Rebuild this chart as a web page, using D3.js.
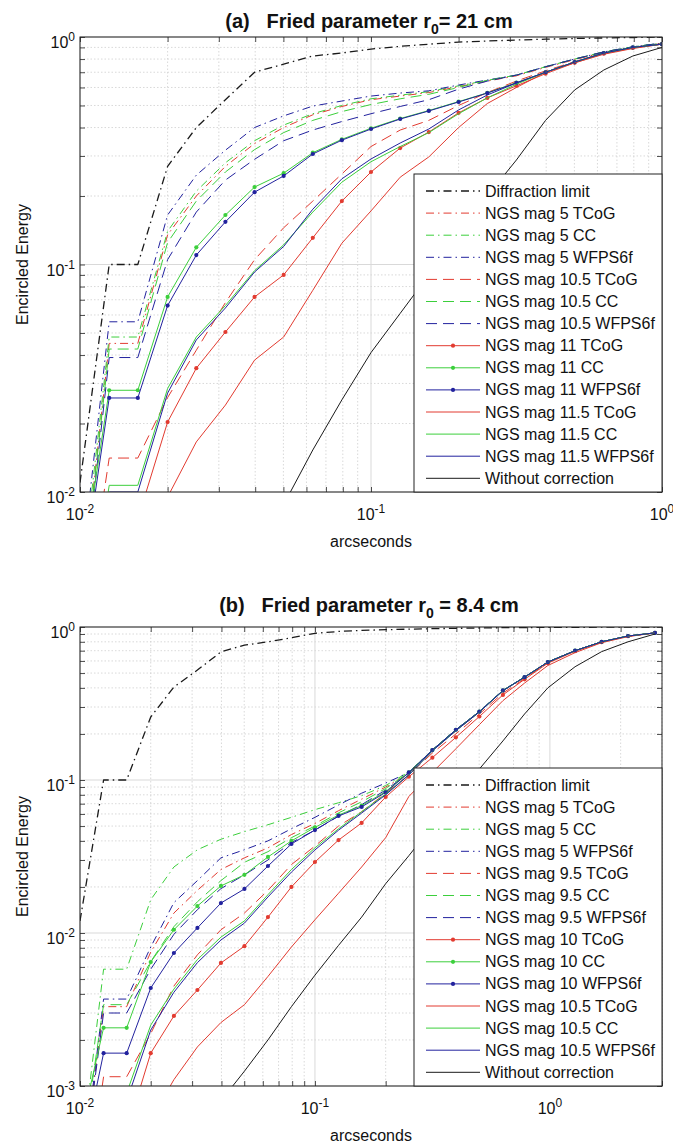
<!DOCTYPE html>
<html>
<head>
<meta charset="utf-8">
<script src="https://cdn.jsdelivr.net/npm/d3@7"></script>
<style>
  body { margin: 0; background: #fff; }
  text { font-family: Arial, "Liberation Sans", sans-serif; fill: #111; }
  .ttl { white-space: pre; }
</style>
</head>
<body>
<svg id="fig" width="673" height="1146"></svg>
<script>
// ---------------- panel (a): r0 = 21 cm ----------------
const xA = [0.01, 0.0126, 0.0158, 0.02, 0.0251, 0.0316, 0.0398, 0.0501, 0.0631, 0.0794, 0.1,
            0.126, 0.158, 0.2, 0.251, 0.316, 0.398, 0.501, 0.631, 0.794, 1.0];
const diffA      = [0.011, 0.1, 0.1, 0.27, 0.40, 0.53, 0.70, 0.76, 0.825, 0.85, 0.885, 0.91, 0.93, 0.95, 0.96, 0.97, 0.978, 0.985, 0.99, 0.995, 1.0];
const m5TCoG_A   = [0.003, 0.045, 0.045, 0.135, 0.20, 0.27, 0.34, 0.40, 0.455, 0.495, 0.53, 0.55, 0.57, 0.605, 0.64, 0.675, 0.735, 0.795, 0.855, 0.90, 0.935];
const m5CC_A     = [0.0035, 0.048, 0.048, 0.14, 0.21, 0.28, 0.35, 0.41, 0.46, 0.50, 0.535, 0.555, 0.575, 0.61, 0.645, 0.68, 0.74, 0.80, 0.86, 0.905, 0.94];
const m5WF_A     = [0.004, 0.056, 0.056, 0.165, 0.247, 0.318, 0.40, 0.45, 0.497, 0.523, 0.55, 0.567, 0.58, 0.615, 0.647, 0.68, 0.74, 0.80, 0.86, 0.905, 0.94];
const m105TCoG_A = [0.002, 0.0141, 0.0141, 0.026, 0.042, 0.068, 0.105, 0.145, 0.19, 0.25, 0.33, 0.39, 0.43, 0.50, 0.57, 0.64, 0.71, 0.78, 0.85, 0.90, 0.935];
const m105CC_A   = [0.003, 0.0425, 0.0425, 0.125, 0.19, 0.255, 0.32, 0.38, 0.43, 0.47, 0.505, 0.535, 0.56, 0.60, 0.645, 0.68, 0.74, 0.80, 0.86, 0.905, 0.94];
const m105WF_A   = [0.0028, 0.039, 0.039, 0.105, 0.17, 0.235, 0.29, 0.35, 0.39, 0.425, 0.46, 0.495, 0.53, 0.59, 0.64, 0.68, 0.74, 0.80, 0.86, 0.905, 0.94];
const m11TCoG_A  = [0.001, 0.0076, 0.0076, 0.0203, 0.035, 0.0505, 0.072, 0.09, 0.131, 0.19, 0.255, 0.325, 0.382, 0.464, 0.54, 0.61, 0.69, 0.77, 0.845, 0.895, 0.93];
const m11CC_A    = [0.004, 0.028, 0.028, 0.072, 0.119, 0.165, 0.219, 0.252, 0.31, 0.355, 0.397, 0.438, 0.475, 0.52, 0.568, 0.63, 0.70, 0.776, 0.85, 0.90, 0.93];
const m11WF_A    = [0.0035, 0.0259, 0.0259, 0.066, 0.11, 0.154, 0.208, 0.245, 0.306, 0.352, 0.394, 0.436, 0.473, 0.518, 0.567, 0.628, 0.70, 0.776, 0.85, 0.90, 0.93];
const m115TCoG_A = [0.0005, 0.003, 0.003, 0.0095, 0.0166, 0.0241, 0.038, 0.048, 0.077, 0.124, 0.172, 0.242, 0.297, 0.40, 0.51, 0.60, 0.70, 0.77, 0.84, 0.89, 0.93];
const m115CC_A   = [0.0015, 0.0107, 0.0107, 0.0285, 0.048, 0.066, 0.094, 0.122, 0.17, 0.23, 0.283, 0.33, 0.38, 0.46, 0.54, 0.62, 0.70, 0.776, 0.85, 0.90, 0.93];
const m115WF_A   = [0.0014, 0.0100, 0.0100, 0.0272, 0.0466, 0.0644, 0.0927, 0.12, 0.175, 0.238, 0.291, 0.342, 0.394, 0.478, 0.556, 0.628, 0.70, 0.776, 0.85, 0.90, 0.93];
const noCorrA    = [0.0003, 0.0005, 0.0008, 0.0013, 0.002, 0.0032, 0.0053, 0.0088, 0.0153, 0.0254, 0.041, 0.061, 0.09, 0.135, 0.20, 0.288, 0.43, 0.585, 0.716, 0.825, 0.90];

// ---------------- panel (b): r0 = 8.4 cm ----------------
const xB = [0.01, 0.0126, 0.0158, 0.02, 0.0251, 0.0316, 0.0398, 0.0501, 0.0631, 0.0794, 0.1,
            0.126, 0.158, 0.2, 0.251, 0.316, 0.398, 0.501, 0.631, 0.78, 0.98, 1.28, 1.66, 2.15, 2.8];
const diffB      = [0.012, 0.1, 0.1, 0.258, 0.405, 0.523, 0.687, 0.762, 0.80, 0.85, 0.91, 0.935, 0.95, 0.96, 0.968, 0.975, 0.98, 0.985, 0.99, 0.992, 0.994, 0.996, 0.997, 0.998, 0.999];
const m5TCoG_B   = [0.0002, 0.0033, 0.0033, 0.0075, 0.0135, 0.019, 0.026, 0.031, 0.036, 0.044, 0.052, 0.063, 0.075, 0.09, 0.11, 0.155, 0.21, 0.278, 0.383, 0.47, 0.59, 0.70, 0.80, 0.873, 0.915];
const m5CC_B     = [0.0003, 0.0058, 0.0058, 0.0165, 0.027, 0.035, 0.041, 0.046, 0.051, 0.057, 0.064, 0.071, 0.079, 0.092, 0.113, 0.157, 0.213, 0.28, 0.385, 0.47, 0.59, 0.70, 0.80, 0.873, 0.915];
const m5WF_B     = [0.0002, 0.0037, 0.0037, 0.0081, 0.0158, 0.022, 0.031, 0.035, 0.040, 0.048, 0.057, 0.0687, 0.082, 0.0955, 0.112, 0.157, 0.213, 0.28, 0.385, 0.47, 0.59, 0.70, 0.80, 0.873, 0.915];
const m95TCoG_B  = [0.0001, 0.00115, 0.00115, 0.0022, 0.0045, 0.0072, 0.0105, 0.0135, 0.019, 0.028, 0.037, 0.05, 0.062, 0.082, 0.108, 0.15, 0.20, 0.27, 0.37, 0.46, 0.585, 0.70, 0.80, 0.872, 0.915];
const m95CC_B    = [0.0003, 0.0034, 0.0034, 0.0065, 0.011, 0.016, 0.022, 0.029, 0.034, 0.042, 0.05, 0.061, 0.072, 0.088, 0.112, 0.157, 0.213, 0.28, 0.385, 0.47, 0.59, 0.70, 0.80, 0.873, 0.915];
const m95WF_B    = [0.0002, 0.0030, 0.0030, 0.0058, 0.0098, 0.0142, 0.0195, 0.024, 0.030, 0.039, 0.047, 0.058, 0.069, 0.086, 0.111, 0.157, 0.213, 0.28, 0.385, 0.47, 0.59, 0.70, 0.80, 0.873, 0.915];
const m10TCoG_B  = [0.0001, 0.0005, 0.0005, 0.00164, 0.00287, 0.00424, 0.00637, 0.0082, 0.0127, 0.02, 0.0291, 0.0405, 0.0524, 0.0774, 0.105, 0.14, 0.19, 0.26, 0.36, 0.455, 0.58, 0.695, 0.795, 0.87, 0.915];
const m10CC_B    = [0.0005, 0.0024, 0.0024, 0.00646, 0.0105, 0.015, 0.0203, 0.024, 0.0314, 0.040, 0.049, 0.059, 0.068, 0.084, 0.112, 0.157, 0.213, 0.28, 0.385, 0.47, 0.59, 0.70, 0.80, 0.873, 0.915];
const m10WF_B    = [0.0003, 0.00164, 0.00164, 0.00437, 0.0074, 0.0108, 0.0157, 0.0194, 0.0274, 0.0382, 0.0471, 0.0582, 0.0667, 0.083, 0.112, 0.157, 0.213, 0.28, 0.385, 0.47, 0.59, 0.70, 0.80, 0.873, 0.915];
const m105TCoG_B = [0.0001, 0.0003, 0.0003, 0.0006, 0.0011, 0.0018, 0.0026, 0.0034, 0.0052, 0.0081, 0.0122, 0.0182, 0.027, 0.042, 0.078, 0.112, 0.16, 0.23, 0.33, 0.43, 0.56, 0.68, 0.79, 0.865, 0.915];
const m105CC_B   = [0.0002, 0.0009, 0.0009, 0.0025, 0.0043, 0.0067, 0.0094, 0.012, 0.0178, 0.026, 0.036, 0.048, 0.062, 0.081, 0.108, 0.155, 0.21, 0.278, 0.383, 0.47, 0.59, 0.70, 0.80, 0.873, 0.915];
const m105WF_B   = [0.0002, 0.0008, 0.0008, 0.00232, 0.0041, 0.0064, 0.009, 0.0116, 0.0172, 0.025, 0.0349, 0.047, 0.0608, 0.08, 0.108, 0.155, 0.21, 0.278, 0.383, 0.47, 0.59, 0.70, 0.80, 0.873, 0.915];
const noCorrB    = [0.00005, 0.00008, 0.00012, 0.0002, 0.0003, 0.00045, 0.0008, 0.00125, 0.002, 0.0033, 0.0053, 0.0083, 0.0127, 0.021, 0.032, 0.05, 0.075, 0.118, 0.18, 0.27, 0.40, 0.55, 0.69, 0.80, 0.90];

// legend labels
const labelsA = ["Diffraction limit", "NGS mag 5 TCoG", "NGS mag 5 CC", "NGS mag 5 WFPS6f",
  "NGS mag 10.5 TCoG", "NGS mag 10.5 CC", "NGS mag 10.5 WFPS6f",
  "NGS mag 11 TCoG", "NGS mag 11 CC", "NGS mag 11 WFPS6f",
  "NGS mag 11.5 TCoG", "NGS mag 11.5 CC", "NGS mag 11.5 WFPS6f", "Without correction"];
const labelsB = ["Diffraction limit", "NGS mag 5 TCoG", "NGS mag 5 CC", "NGS mag 5 WFPS6f",
  "NGS mag 9.5 TCoG", "NGS mag 9.5 CC", "NGS mag 9.5 WFPS6f",
  "NGS mag 10 TCoG", "NGS mag 10 CC", "NGS mag 10 WFPS6f",
  "NGS mag 10.5 TCoG", "NGS mag 10.5 CC", "NGS mag 10.5 WFPS6f", "Without correction"];

// line styles, in legend order
const BLACK = "#1a1a1a", RED = "#e23b30", GREEN = "#3ccf3c", BLUE = "#22229e";
const DASHDOT = "8,4,1.5,4", DASHED = "11,6";
const styles = [
  {c: BLACK, d: DASHDOT, w: 1.3}, {c: RED, d: DASHDOT}, {c: GREEN, d: DASHDOT}, {c: BLUE, d: DASHDOT},
  {c: RED, d: DASHED}, {c: GREEN, d: DASHED}, {c: BLUE, d: DASHED},
  {c: RED, m: true}, {c: GREEN, m: true}, {c: BLUE, m: true},
  {c: RED}, {c: GREEN}, {c: BLUE}, {c: BLACK}
];

const panels = [
  { id: "a", title: "(a)   Fried parameter r", titleRest: "= 21 cm", titleY: 28,
    left: 80, right: 662, top: 37, bottom: 492, xDom: [0.01, 1], yDom: [0.01, 1],
    xs: xA, labels: labelsA,
    series: [diffA, m5TCoG_A, m5CC_A, m5WF_A, m105TCoG_A, m105CC_A, m105WF_A,
             m11TCoG_A, m11CC_A, m11WF_A, m115TCoG_A, m115CC_A, m115WF_A, noCorrA] },
  { id: "b", title: "(b)   Fried parameter r", titleRest: " = 8.4 cm", titleY: 612,
    left: 80, right: 662, top: 627, bottom: 1086, xDom: [0.01, 3], yDom: [0.001, 1],
    xs: xB, labels: labelsB,
    series: [diffB, m5TCoG_B, m5CC_B, m5WF_B, m95TCoG_B, m95CC_B, m95WF_B,
             m10TCoG_B, m10CC_B, m10WF_B, m105TCoG_B, m105CC_B, m105WF_B, noCorrB] }
];

const svg = d3.select("#fig");
svg.append("rect").attr("width", 673).attr("height", 1146).attr("fill", "#fff");

function isDecade(v) { return Math.abs(Math.log10(v) - Math.round(Math.log10(v))) < 1e-9; }

// "10" with a raised exponent
function powLabel(sel, v) {
  const e = Math.round(Math.log10(v));
  sel.append("tspan").text("10");
  sel.append("tspan").attr("dy", -7).attr("font-size", 12).text(String(e));
}

panels.forEach(p => {
  const g = svg.append("g");
  const x = d3.scaleLog().domain(p.xDom).range([p.left, p.right]);
  const y = d3.scaleLog().domain(p.yDom).range([p.bottom, p.top]);
  const W = p.right - p.left, H = p.bottom - p.top;

  const xt = x.ticks(), yt = y.ticks();
  const xMaj = xt.filter(isDecade), yMaj = yt.filter(isDecade);

  // grid: dotted minor lines, solid decade lines
  const grid = g.append("g");
  grid.selectAll(".gx").data(xt.filter(v => !isDecade(v))).join("line")
    .attr("x1", d => x(d)).attr("x2", d => x(d)).attr("y1", p.top).attr("y2", p.bottom)
    .attr("stroke", "#cfcfcf").attr("stroke-width", 0.8).attr("stroke-dasharray", "1.5,2");
  grid.selectAll(".gy").data(yt.filter(v => !isDecade(v))).join("line")
    .attr("y1", d => y(d)).attr("y2", d => y(d)).attr("x1", p.left).attr("x2", p.right)
    .attr("stroke", "#cfcfcf").attr("stroke-width", 0.8).attr("stroke-dasharray", "1.5,2");
  grid.selectAll(".Gx").data(xMaj).join("line")
    .attr("x1", d => x(d)).attr("x2", d => x(d)).attr("y1", p.top).attr("y2", p.bottom)
    .attr("stroke", "#d9d9d9").attr("stroke-width", 1);
  grid.selectAll(".Gy").data(yMaj).join("line")
    .attr("y1", d => y(d)).attr("y2", d => y(d)).attr("x1", p.left).attr("x2", p.right)
    .attr("stroke", "#d9d9d9").attr("stroke-width", 1);

  // curves
  const clipId = "clip-" + p.id;
  g.append("clipPath").attr("id", clipId).append("rect")
    .attr("x", p.left).attr("y", p.top).attr("width", W).attr("height", H);
  const plot = g.append("g").attr("clip-path", `url(#${clipId})`);
  const line = d3.line().x(d => x(d[0])).y(d => y(d[1]));
  p.series.forEach((vals, i) => {
    const s = styles[i];
    const pts = p.xs.map((xv, k) => [xv, vals[k]]);
    plot.append("path").datum(pts).attr("d", line)
      .attr("fill", "none").attr("stroke", s.c).attr("stroke-width", s.w || 1)
      .attr("stroke-dasharray", s.d || null).attr("stroke-linejoin", "round");
    if (s.m) {
      plot.selectAll(null).data(pts).join("circle")
        .attr("cx", d => x(d[0])).attr("cy", d => y(d[1])).attr("r", 2.1).attr("fill", s.c);
    }
  });

  // axes with inward ticks on all four sides
  const tick = 5;
  const ax = g.append("g").attr("color", "#222");
  ax.append("g").attr("transform", `translate(0,${p.bottom})`)
    .call(d3.axisBottom(x).tickValues(xt).tickSize(-tick).tickFormat(""));
  ax.append("g").attr("transform", `translate(0,${p.top})`)
    .call(d3.axisTop(x).tickValues(xt).tickSize(-tick).tickFormat(""));
  ax.append("g").attr("transform", `translate(${p.left},0)`)
    .call(d3.axisLeft(y).tickValues(yt).tickSize(-tick).tickFormat(""));
  ax.append("g").attr("transform", `translate(${p.right},0)`)
    .call(d3.axisRight(y).tickValues(yt).tickSize(-tick).tickFormat(""));
  ax.selectAll(".domain").remove();
  ax.selectAll(".tick line").attr("stroke", "#222").attr("stroke-width", 0.8);
  g.append("rect").attr("x", p.left).attr("y", p.top).attr("width", W).attr("height", H)
    .attr("fill", "none").attr("stroke", "#222").attr("stroke-width", 1);

  // tick labels
  xMaj.forEach(v => {
    const t = g.append("text").attr("x", x(v)).attr("y", p.bottom + 28)
      .attr("text-anchor", "middle").attr("font-size", 16);
    powLabel(t, v);
  });
  yMaj.forEach(v => {
    const t = g.append("text").attr("x", p.left - 5).attr("y", y(v) + 11)
      .attr("text-anchor", "end").attr("font-size", 16);
    powLabel(t, v);
  });

  // axis titles
  g.append("text").attr("x", (p.left + p.right) / 2).attr("y", p.bottom + 55)
    .attr("text-anchor", "middle").attr("font-size", 16).text("arcseconds");
  g.append("text").attr("transform", `translate(28,${(p.top + p.bottom) / 2}) rotate(-90)`)
    .attr("text-anchor", "middle").attr("font-size", 16).text("Encircled Energy");

  // panel title with subscript
  const tt = g.append("text").attr("class", "ttl").attr("x", (p.left + p.right) / 2 - 2).attr("y", p.titleY)
    .attr("text-anchor", "middle").attr("font-size", 20).attr("font-weight", "bold");
  tt.append("tspan").text(p.title);
  tt.append("tspan").attr("dy", 6).attr("font-size", 14).text("0");
  tt.append("tspan").attr("dy", -6).text(p.titleRest);

  // legend
  const lgW = 248, lgH = 318;
  const lx = p.right - lgW, ly = p.bottom - lgH;
  const lg = g.append("g");
  lg.append("rect").attr("x", lx).attr("y", ly).attr("width", lgW).attr("height", lgH)
    .attr("fill", "#fff").attr("stroke", "#222").attr("stroke-width", 1);
  const rowH = 22.1;
  p.labels.forEach((lab, i) => {
    const s = styles[i];
    const cy = ly + 17 + i * rowH;
    lg.append("line").attr("x1", lx + 12).attr("x2", lx + 66).attr("y1", cy).attr("y2", cy)
      .attr("stroke", s.c).attr("stroke-width", s.w || 1).attr("stroke-dasharray", s.d || null);
    if (s.m) lg.append("circle").attr("cx", lx + 39).attr("cy", cy).attr("r", 2.1).attr("fill", s.c);
    lg.append("text").attr("x", lx + 71).attr("y", cy + 5.5).attr("font-size", 16).text(lab);
  });
});
</script>
</body>
</html>
